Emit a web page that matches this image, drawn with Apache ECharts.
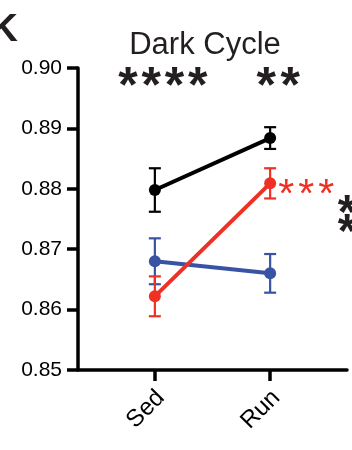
<!DOCTYPE html>
<html>
<head>
<meta charset="utf-8">
<script src="https://cdn.jsdelivr.net/npm/echarts@6/dist/echarts.min.js"></script>
<style>
  html, body { margin: 0; padding: 0; background: #fff; }
  #chart { width: 352px; height: 450px; }
</style>
</head>
<body>
<div id="chart"></div>
<script>
// Groups and y-axis range
const groups = ['Sed', 'Run'];
const yMin = 0.85;
const yMax = 0.90;
const yStep = 0.01;

// Mean ± SEM per cohort
const blackMean = [0.8798, 0.8884];
const blackSem = [0.0036, 0.0018];
const blueMean = [0.8680, 0.8660];
const blueSem = [0.0038, 0.0032];
const redMean = [0.8622, 0.8809];
const redSem = [0.0033, 0.0025];

// Significance marks
const topStars = ['****', '**'];
const redStars = '***';
const sideStars = ['*', '*'];

// The x axis is laid out as evenly spaced slots; the two groups sit in slots 2 and 5
const groupSlot = [2, 5];
const slotCount = 8;
const slots = [];
for (let i = 0; i < slotCount; i++) {
  const g = groupSlot.indexOf(i);
  slots.push(g >= 0 ? groups[g] : '');
}

const FONT = '"Liberation Sans", Arial, Helvetica, sans-serif';
const BLACK = '#000000';
const INK = '#231f20';
const BLUE = '#3953a4';
const RED = '#ee3124';

function lineSeries(name, mean, color, z) {
  return {
    name: name,
    type: 'line',
    data: mean.map((m, i) => [groupSlot[i], m]),
    symbol: 'circle',
    symbolSize: 12,
    lineStyle: { color: color, width: 4 },
    itemStyle: { color: color },
    silent: true,
    animation: false,
    z: z
  };
}

function errorSeries(name, mean, sem, color, z) {
  return {
    name: name + ' SEM',
    type: 'custom',
    data: mean.map((m, i) => [groupSlot[i], m - sem[i], m + sem[i]]),
    encode: { x: 0, y: [1, 2] },
    renderItem: function (params, api) {
      const x = api.value(0);
      const lo = api.coord([x, api.value(1)]);
      const hi = api.coord([x, api.value(2)]);
      const hw = 6;
      const style = { stroke: color, lineWidth: 2.2, fill: null };
      return {
        type: 'group',
        children: [
          { type: 'line', shape: { x1: lo[0], y1: lo[1], x2: hi[0], y2: hi[1] }, style: style },
          { type: 'line', shape: { x1: lo[0] - hw, y1: lo[1], x2: lo[0] + hw, y2: lo[1] }, style: style },
          { type: 'line', shape: { x1: hi[0] - hw, y1: hi[1], x2: hi[0] + hw, y2: hi[1] }, style: style }
        ]
      };
    },
    silent: true,
    animation: false,
    z: z
  };
}

const chart = echarts.init(document.getElementById('chart'), null, { renderer: 'canvas' });

chart.setOption({
  backgroundColor: '#ffffff',
  animation: false,
  grid: { left: 78, right: 5, top: 68, bottom: 80, containLabel: false },
  xAxis: {
    type: 'category',
    data: slots,
    boundaryGap: false,
    axisLine: { show: true, lineStyle: { color: BLACK, width: 3.5 } },
    axisTick: {
      show: true,
      length: 11,
      interval: (i) => groupSlot.indexOf(i) >= 0,
      lineStyle: { color: BLACK, width: 3.5 }
    },
    axisLabel: {
      show: true,
      interval: (i) => groupSlot.indexOf(i) >= 0,
      rotate: 45,
      margin: 18,
      verticalAlign: 'top',
      lineHeight: 17,
      fontSize: 24,
      fontFamily: FONT,
      color: BLACK
    },
    splitLine: { show: false }
  },
  yAxis: {
    type: 'value',
    min: yMin,
    max: yMax,
    interval: yStep,
    axisLine: { show: true, lineStyle: { color: BLACK, width: 3.5 } },
    axisTick: { show: true, length: 11, lineStyle: { color: BLACK, width: 3.5 } },
    axisLabel: {
      margin: 16,
      fontSize: 21,
      fontFamily: FONT,
      color: BLACK,
      formatter: (v) => v.toFixed(2)
    },
    splitLine: { show: false }
  },
  series: [
    errorSeries('Black', blackMean, blackSem, BLACK, 2),
    lineSeries('Black', blackMean, BLACK, 3),
    errorSeries('Blue', blueMean, blueSem, BLUE, 4),
    lineSeries('Blue', blueMean, BLUE, 5),
    errorSeries('Red', redMean, redSem, RED, 6),
    lineSeries('Red', redMean, RED, 7)
  ]
});

// Annotations: panel letter, title and significance stars placed from axis pixels
const sedX = chart.convertToPixel({ xAxisIndex: 0 }, groupSlot[0]);
const runX = chart.convertToPixel({ xAxisIndex: 0 }, groupSlot[1]);

function starRow(str, cx0, pitch, cy, size, color, weight) {
  const out = [];
  for (let i = 0; i < str.length; i++) {
    out.push({
      type: 'text',
      x: cx0 + i * pitch,
      y: cy,
      style: {
        text: str[i],
        font: weight + ' ' + size + 'px ' + FONT,
        fill: color,
        align: 'center',
        verticalAlign: 'middle'
      },
      silent: true
    });
  }
  return out;
}

const graphics = [
  {
    type: 'text', x: 18, y: 30,
    style: { text: 'K', font: 'bold 39px ' + FONT, fill: INK, align: 'right', verticalAlign: 'middle' },
    silent: true
  },
  {
    type: 'text', x: 205, y: 45,
    style: { text: 'Dark Cycle', font: '31px ' + FONT, fill: INK, align: 'center', verticalAlign: 'middle' },
    silent: true
  }
]
  .concat(starRow(topStars[0], sedX - 27, 23.3, 88, 50, INK, 'bold'))
  .concat(starRow(topStars[1], runX - 4, 24, 88, 50, INK, 'bold'))
  .concat(starRow(redStars, runX + 16, 20, 196, 41, RED, 'normal'))
  .concat(starRow(sideStars[0], 347, 0, 215, 48, INK, 'bold'))
  .concat(starRow(sideStars[1], 347, 0, 234, 48, INK, 'bold'));

chart.setOption({ graphic: graphics });
</script>
</body>
</html>
